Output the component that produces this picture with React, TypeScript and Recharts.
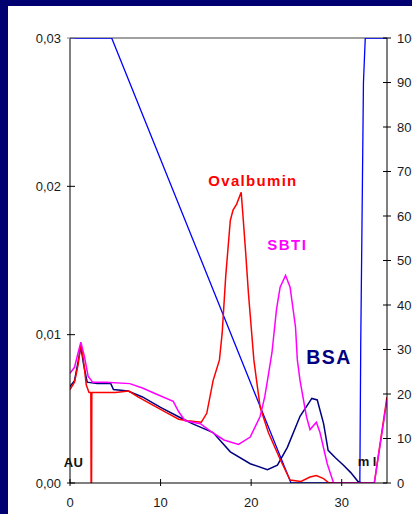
import React from 'react';
import { LineChart, Line, XAxis, YAxis, ReferenceLine, ReferenceDot } from 'recharts';

// Axis ticks
const xTicks = [0, 10, 20, 30];
const auTicks = [0, 0.01, 0.02, 0.03];
const pctTicks = [0, 10, 20, 30, 40, 50, 60, 70, 80, 90, 100];

// Elution gradient (% buffer B) vs volume (ml)
const gradientMl = [0, 4.6, 24.4, 32.0, 32.1, 32.4, 32.6, 35];
const gradientPct = [100, 100, 0, 0, 31, 90, 100, 100];

// Ovalbumin absorbance trace
const ovalbuminMl = [
  0, 0.5, 0.9, 1.2, 1.5, 1.8, 2.1, 2.3, 2.33, 2.38, 2.41, 3, 5, 6.5, 7.5, 9, 10.5, 12, 13, 14.5,
  15.1, 15.8, 16.5, 16.8, 17.2, 17.7, 18.0, 18.4, 18.9, 19.1, 19.4, 19.7, 20.3, 20.6, 21.0, 21.9,
  23.2, 24.3, 25.5, 26.5, 27.2, 28.0, 28.6, 33.6, 34.2, 35,
];
const ovalbuminAu = [
  0.0063, 0.0068, 0.008, 0.0094, 0.0082, 0.0066, 0.0061, 0.0061, 0, 0, 0.0061, 0.0061, 0.0061, 0.0062,
  0.0058, 0.0053, 0.0048, 0.0043, 0.0042, 0.0041, 0.0047, 0.0069, 0.0083, 0.0101, 0.014, 0.0177,
  0.0184, 0.0188, 0.0196, 0.018, 0.0155, 0.0128, 0.0083, 0.0069, 0.0051, 0.0034, 0.0016, 0.0002,
  0.0001, 0.0004, 0.0005, 0.0003, 0, 0, 0.0025, 0.0058,
];

// SBTI absorbance trace
const sbtiMl = [
  0, 0.5, 0.9, 1.2, 1.6, 2.0, 2.5, 4.0, 6.6, 8.0, 9.5, 11.4, 12.0, 12.7, 14.4, 15.5, 17.0, 18.6,
  19.9, 21.0, 21.5, 21.8, 22.3, 22.8, 23.2, 23.8, 24.3, 24.9, 25.1, 25.4, 26.1, 26.5, 27.2, 27.6,
  28.4, 29.1, 33.6, 35,
];
const sbtiAu = [
  0.0074, 0.0078, 0.0088, 0.0095, 0.0085, 0.0072, 0.0068, 0.0068, 0.0067, 0.0064, 0.006, 0.0055,
  0.0048, 0.0042, 0.004, 0.0035, 0.0029, 0.0026, 0.0031, 0.0045, 0.0058, 0.0069, 0.0088, 0.0117,
  0.0132, 0.014, 0.0132, 0.0105, 0.0083, 0.0069, 0.0045, 0.0036, 0.0041, 0.0034, 0.0013, 0, 0, 0.0056,
];

// BSA absorbance trace
const bsaMl = [
  0, 0.5, 0.9, 1.2, 1.5, 1.9, 3, 4.5, 4.8, 6.4, 8, 10, 12.2, 13.5, 15.8, 17.7, 19.9, 21.8, 22.9,
  24.0, 25.4, 26.7, 27.3, 28.0, 28.5, 29.3, 30.2, 31.0, 31.8, 32.2,
];
const bsaAu = [
  0.0065, 0.0069, 0.0082, 0.0092, 0.008, 0.0068, 0.0067, 0.0067, 0.0063, 0.0062, 0.0058, 0.0051,
  0.0044, 0.004, 0.0034, 0.0021, 0.0013, 0.0009, 0.0012, 0.0024, 0.0045, 0.0057, 0.0056, 0.004,
  0.0022, 0.0017, 0.0012, 0.0007, 0.0001, 0,
];

const zip = (xs: number[], vs: number[]) => xs.map((x, i) => ({ x, v: vs[i] }));

const gradientData = zip(gradientMl, gradientPct);
const ovalbuminData = zip(ovalbuminMl, ovalbuminAu);
const sbtiData = zip(sbtiMl, sbtiAu);
const bsaData = zip(bsaMl, bsaAu);

const FONT = '"Liberation Sans", Arial, sans-serif';
const TICK = 4;
const GAP = 5;

const fmtAu = (v: number) => v.toFixed(2).replace('.', ',');

function LeftTick(props: any) {
  const { x, y, payload } = props;
  const ax = x + TICK + GAP;
  return (
    <g>
      <line x1={ax - 3} x2={ax + 5} y1={y} y2={y} stroke={payload.value === 0.03 ? '#808080' : '#000'} />
      <text x={x} y={y} dy="0.35em" textAnchor="end" fontFamily={FONT} fontSize={13} fill="#1a1a1a">
        {fmtAu(payload.value)}
      </text>
    </g>
  );
}

function RightTick(props: any) {
  const { x, y, payload } = props;
  const ax = x - TICK - GAP;
  return (
    <g>
      <line x1={ax - 4} x2={ax + 4} y1={y} y2={y} stroke="#000" />
      <text x={ax + 10} y={y} dy="0.35em" textAnchor="start" fontFamily={FONT} fontSize={13} fill="#1a1a1a">
        {payload.value}
      </text>
    </g>
  );
}

function BottomTick(props: any) {
  const { x, y, payload } = props;
  const ay = y - TICK - GAP;
  return (
    <g>
      <line x1={x} x2={x} y1={ay - 4} y2={ay + 3} stroke="#000" />
      <text x={x} y={ay + 15} dy="0.71em" textAnchor="middle" fontFamily={FONT} fontSize={13} fill="#1a1a1a">
        {payload.value}
      </text>
    </g>
  );
}

const makeLabel = (text: string, color: string, size: number, spacing: number) => (p: any) => (
  <text
    x={p.cx}
    y={p.cy}
    dy="0.36em"
    textAnchor="middle"
    fontFamily={FONT}
    fontWeight="bold"
    fontSize={size}
    letterSpacing={spacing}
    fill={color}
  >
    {text}
  </text>
);

export default function App() {
  return (
    <div style={{ position: 'absolute', left: 0, top: 0, width: 412, height: 514, background: '#000070' }}>
      <div style={{ position: 'absolute', left: 8, top: 6, right: 0, bottom: 0, background: '#fff' }} />
      <div style={{ position: 'absolute', left: 0, top: 0 }}>
        <LineChart width={412} height={514} margin={{ top: 38, right: 0, bottom: 0, left: 0 }}>
          <XAxis
            xAxisId="ml"
            type="number"
            dataKey="x"
            domain={[0, 35]}
            ticks={xTicks}
            allowDataOverflow
            height={31}
            tickSize={TICK}
            tickMargin={GAP}
            tickLine={false}
            axisLine={{ stroke: '#000' }}
            tick={<BottomTick />}
          />
          <YAxis
            yAxisId="au"
            orientation="left"
            domain={[0, 0.03]}
            ticks={auTicks}
            allowDataOverflow
            width={70}
            tickSize={TICK}
            tickMargin={GAP}
            tickLine={false}
            axisLine={{ stroke: '#000' }}
            tick={<LeftTick />}
          />
          <YAxis
            yAxisId="pct"
            orientation="right"
            domain={[0, 100]}
            ticks={pctTicks}
            allowDataOverflow
            width={25}
            tickSize={TICK}
            tickMargin={GAP}
            tickLine={false}
            axisLine={{ stroke: '#000' }}
            tick={<RightTick />}
          />
          <ReferenceLine xAxisId="ml" yAxisId="au" y={0.03} stroke="#808080" strokeWidth={1.5} />
          <Line
            xAxisId="ml"
            yAxisId="pct"
            data={gradientData}
            dataKey="v"
            type="linear"
            stroke="#0000ff"
            strokeWidth={1.3}
            dot={false}
            isAnimationActive={false}
          />
          <Line
            xAxisId="ml"
            yAxisId="au"
            data={bsaData}
            dataKey="v"
            type="linear"
            stroke="#000080"
            strokeWidth={1.5}
            dot={false}
            isAnimationActive={false}
          />
          <Line
            xAxisId="ml"
            yAxisId="au"
            data={ovalbuminData}
            dataKey="v"
            type="linear"
            stroke="#ff0000"
            strokeWidth={1.5}
            dot={false}
            isAnimationActive={false}
          />
          <ReferenceDot xAxisId="ml" yAxisId="au" x={0.39} y={0.00142} shape={makeLabel('AU', '#111', 13, 0.5)} />
          <ReferenceDot xAxisId="ml" yAxisId="au" x={32.8} y={0.00145} shape={makeLabel('m l', '#111', 13, 0)} />
          <Line
            xAxisId="ml"
            yAxisId="au"
            data={sbtiData}
            dataKey="v"
            type="linear"
            stroke="#ff00ff"
            strokeWidth={1.5}
            dot={false}
            isAnimationActive={false}
          />
          <ReferenceDot xAxisId="ml" yAxisId="au" x={20.2} y={0.0204} shape={makeLabel('Ovalbumin', '#ff0000', 15, 1.3)} />
          <ReferenceDot xAxisId="ml" yAxisId="au" x={24.0} y={0.01604} shape={makeLabel('SBTI', '#ff00ff', 15, 1.5)} />
          <ReferenceDot xAxisId="ml" yAxisId="au" x={28.6} y={0.0085} shape={makeLabel('BSA', '#000080', 19.5, 1.5)} />
        </LineChart>
      </div>
    </div>
  );
}
